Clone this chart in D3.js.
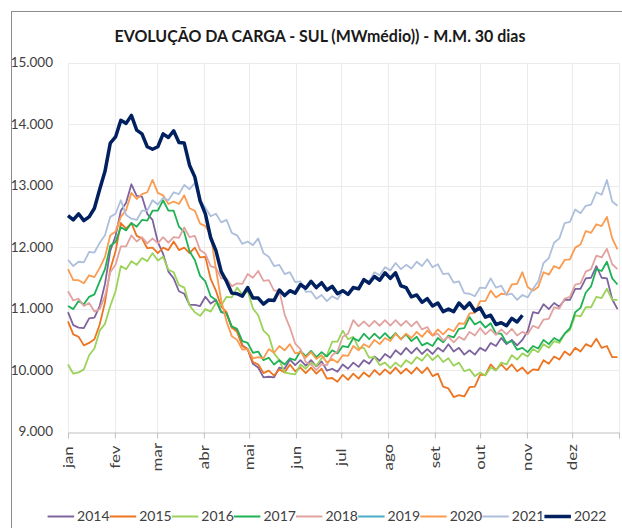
<!DOCTYPE html>
<html>
<head>
<meta charset="utf-8">
<script src="https://cdn.jsdelivr.net/npm/d3@7"></script>
<style>
body { margin: 0; background: #fff; }
text { font-family: Lato, "Liberation Sans", sans-serif; }
</style>
</head>
<body>
<script>

// um ponto a cada 3,5 dias (pico e vale de cada semana), MWmédio
const step = 3.5;
const months = ["jan", "fev", "mar", "abr", "mai", "jun", "jul", "ago", "set", "out", "nov", "dez"];
const monthStart = [0, 31, 59, 90, 120, 151, 181, 212, 243, 273, 304, 334, 365];
const yTicks = [9000, 10000, 11000, 12000, 13000, 14000, 15000];
const years = ["2014", "2015", "2016", "2017", "2018", "2019", "2020", "2021", "2022"];
const colors = ["#7e649e", "#ed7420", "#9bd35a", "#1fb155", "#e2a3a0", "#4bacc6", "#fa9b50", "#aebfdc", "#002060"];

const c2014 = [10940,10730,10690,10680,10840,10850,11040,11400,11940,12180,12590,12720,13020,12830,12820,12540,12440,12080,11890,11600,
  11490,11280,11240,11060,11060,11040,11190,11080,11140,10940,10920,10690,10640,10400,10340,10100,10040,9880,9890,9880,
  10040,10020,10170,10080,10160,10070,10160,10060,10140,9990,10020,9970,10090,10020,10120,10050,10160,10100,10220,10150,
  10260,10200,10320,10250,10360,10270,10360,10260,10340,10260,10360,10300,10420,10300,10360,10250,10320,10250,10360,10310,
  10440,10390,10520,10420,10490,10400,10490,10630,10940,10920,11070,10990,11090,11030,11140,11140,11320,11320,11490,11500,
  11690,11500,11490,11150,10990];
const c2015 = [10790,10580,10540,10400,10440,10500,10740,11100,11640,11930,12390,12300,12390,12180,12140,11980,11990,11900,11990,11950,
  12090,11950,11990,11900,11990,11830,11840,11480,11290,11030,10940,10690,10620,10390,10340,10130,10090,9950,9990,9910,
  10010,9960,10090,9980,10040,9950,10040,9940,10020,9860,9870,9810,9920,9840,9940,9860,9960,9890,10000,9920,
  10010,9940,10040,9940,10020,9940,10040,9950,10040,9900,9940,9730,9700,9560,9590,9570,9720,9730,9920,9920,
  10090,10000,10090,10000,10090,9980,10040,9940,10010,10000,10160,10100,10220,10170,10300,10240,10360,10300,10420,10380,
  10510,10360,10390,10210,10210];
const c2016 = [10090,9940,9960,10010,10240,10350,10640,10750,11040,11280,11690,11640,11770,11710,11820,11770,11900,11780,11840,11630,
  11590,11380,11340,11050,10940,10880,10990,10950,11090,11050,11190,11180,11340,11230,11290,11000,10890,10640,10560,10270,
  10160,9960,9940,9930,10090,10020,10120,10070,10190,10240,10460,10460,10640,10500,10540,10360,10360,10200,10210,10080,
  10120,10030,10120,10050,10160,10100,10210,10150,10260,10160,10240,10130,10190,10070,10120,9980,10010,9900,9960,9910,
  10040,9990,10120,10090,10240,10170,10270,10220,10340,10290,10420,10360,10470,10440,10590,10650,10890,10870,11020,11020,
  11190,11170,11320,11140,11140];
const c2017 = [11040,10990,11120,11070,11190,11230,11440,11640,12020,12080,12320,12270,12390,12330,12440,12430,12590,12590,12760,12590,
  12590,12330,12240,11930,11790,11530,11440,11200,11140,10940,10920,10710,10670,10470,10440,10280,10300,10160,10200,10090,
  10160,10090,10190,10160,10310,10220,10310,10210,10290,10220,10320,10270,10390,10370,10520,10470,10590,10500,10590,10510,
  10600,10510,10600,10500,10580,10470,10540,10400,10440,10390,10520,10450,10560,10530,10670,10680,10860,10740,10790,10690,
  10760,10590,10590,10440,10470,10330,10360,10290,10390,10350,10490,10420,10520,10470,10590,10680,10940,11010,11260,11360,
  11640,11610,11760,11490,11390];
const c2018 = [11280,11130,11160,11040,11090,10950,10990,11200,11590,11710,12010,12010,12190,12090,12160,12060,12140,12060,12160,12070,
  12160,12150,12320,12160,12180,11950,11890,11690,11660,11490,11490,11360,11410,11400,11560,11500,11610,11450,11460,11290,
  11290,10900,10690,10430,10340,10130,10090,10000,10090,10080,10240,10300,10540,10590,10810,10710,10790,10710,10800,10720,
  10810,10720,10810,10720,10800,10710,10790,10660,10700,10560,10590,10480,10540,10450,10540,10490,10620,10560,10680,10580,
  10660,10570,10660,10580,10670,10560,10620,10580,10720,10680,10820,10830,11020,11000,11160,11190,11390,11410,11600,11640,
  11860,11830,11970,11720,11640];
const c2019 = [];
const c2020 = [11640,11460,11460,11410,11540,11510,11660,11840,12190,12250,12490,12600,12880,12780,12860,12890,13090,12880,12840,12700,
  12740,12700,12840,12630,12590,12380,12340,12200,11640,11130,10790,10550,10490,10330,10340,10190,10210,10190,10340,10280,
  10390,10320,10420,10270,10290,10200,10290,10180,10240,10120,10180,10120,10240,10230,10390,10320,10420,10370,10490,10420,
  10520,10470,10590,10500,10590,10520,10620,10540,10640,10560,10660,10580,10670,10630,10760,10750,10920,10930,11120,11120,
  11290,11180,11240,11230,11390,11400,11590,11350,11290,11350,11590,11550,11690,11650,11790,11800,11990,12040,12260,12230,
  12370,12340,12490,12140,11960];
const c2021 = [11790,11690,11760,11750,11920,11910,12070,12190,12490,12540,12760,12520,12460,12440,12590,12590,12760,12690,12800,12760,
  12890,12860,13010,12940,13040,12750,12640,12500,12540,12400,12440,12230,12190,12050,12090,12030,12140,11900,11840,11690,
  11710,11560,11590,11430,11440,11270,11280,11160,11220,11120,11200,11150,11280,11230,11360,11320,11460,11440,11590,11540,
  11670,11620,11740,11640,11710,11650,11760,11690,11800,11670,11720,11560,11570,11420,11440,11250,11240,11200,11340,11330,
  11490,11340,11370,11220,11240,11140,11220,11180,11320,11440,11740,11820,12070,12140,12390,12410,12610,12550,12670,12690,
  12890,12850,13090,12740,12670];
const c2022 = [12510,12440,12540,12430,12490,12630,12940,13230,13690,13790,14060,14010,14140,13900,13840,13630,13590,13630,13840,13780,
  13890,13700,13690,13330,13140,12750,12540,12150,11940,11600,11440,11250,11240,11200,11340,11170,11170,11070,11140,11130,
  11300,11210,11290,11250,11390,11330,11440,11340,11420,11300,11360,11240,11290,11230,11340,11320,11470,11410,11520,11460,
  11580,11490,11580,11370,11340,11190,11220,11100,11160,11040,11090,10950,10990,10950,11090,11000,11090,10960,11010,10860,
  10890,10740,10770,10720,10840,10780,10890];

const allSeries = [c2014, c2015, c2016, c2017, c2018, c2019, c2020, c2021, c2022];
const series = years.map((yr, i) => ({ year: yr, values: allSeries[i], color: colors[i] }));

const svg = d3.select("body").append("svg")
    .attr("width", 622)
    .attr("height", 528);

// moldura do gráfico
svg.append("rect")
    .attr("x", 11.5).attr("y", 11.5)
    .attr("width", 700).attr("height", 600)
    .style("fill", "none")
    .style("stroke", "#8c8c8c");

svg.append("text")
    .attr("x", 320)
    .attr("y", 42)
    .attr("text-anchor", "middle")
    .attr("textLength", 411)
    .attr("lengthAdjust", "spacingAndGlyphs")
    .style("font-size", "17px")
    .style("font-weight", "bold")
    .style("fill", "#1a1a1a")
    .text("EVOLUÇÃO DA CARGA - SUL (MWmédio)) - M.M. 30 dias");

const x = d3.scaleLinear().domain([0, 365]).range([68, 619]);
const y = d3.scaleLinear().domain([9000, 15000]).range([431.5, 62.5]);

const br = d3.formatLocale({ decimal: ",", thousands: ".", grouping: [3], currency: ["R$", ""] });
const fmt = br.format(",.0f");

// grades
svg.selectAll(".hgrid")
    .data(yTicks.slice(1))
    .join("line")
    .attr("class", "hgrid")
    .attr("x1", x(0)).attr("x2", x(365))
    .attr("y1", d => Math.round(y(d)) + 0.5).attr("y2", d => Math.round(y(d)) + 0.5)
    .style("stroke", "#ebebeb");

svg.selectAll(".vgrid")
    .data(monthStart)
    .join("line")
    .attr("class", "vgrid")
    .attr("x1", d => Math.round(x(d)) + 0.5).attr("x2", d => Math.round(x(d)) + 0.5)
    .attr("y1", y(15000)).attr("y2", y(9000))
    .style("stroke", "#ebebeb");

const yAxis = svg.append("g")
    .attr("transform", "translate(" + x(0) + ",0)")
    .call(d3.axisLeft(y).tickValues(yTicks).tickSize(0).tickPadding(15).tickFormat(fmt));
yAxis.select(".domain").remove();
yAxis.selectAll("text")
    .style("font-size", "13.5px")
    .style("fill", "#404040");

const xAxis = svg.append("g")
    .attr("transform", "translate(0," + (Math.round(y(9000)) + 0.5) + ")")
    .call(d3.axisBottom(x).tickValues(monthStart).tickSize(6).tickSizeOuter(0)
        .tickFormat((d, i) => months[i] || ""));
xAxis.select(".domain").style("stroke", "#bfbfbf");
xAxis.selectAll("line").style("stroke", "#bfbfbf");
// rótulos girados e um pouco esticados, como no original
xAxis.selectAll("text")
    .attr("transform", "rotate(-90) scale(1.3,1)")
    .attr("x", -19)
    .attr("y", 0)
    .attr("dy", "0.35em")
    .style("text-anchor", "middle")
    .style("font-size", "13px")
    .style("fill", "#404040");

const line = d3.line()
    .x((d, i) => x(i * step))
    .y(d => y(d));

svg.selectAll(".serie")
    .data(series.filter(s => s.values.length))
    .join("path")
    .attr("class", "serie")
    .attr("d", d => line(d.values))
    .style("fill", "none")
    .style("stroke", d => d.color)
    .style("stroke-width", d => d.year == "2022" ? 3.5 : 1.8)
    .style("stroke-linejoin", "round");

// legenda
const legend = svg.selectAll(".leg")
    .data(series)
    .join("g")
    .attr("class", "leg")
    .attr("transform", (d, i) => "translate(" + (47.6 + i * 62.1) + ",516.5)");

legend.append("line")
    .attr("x1", 0).attr("x2", 26.5)
    .style("stroke", d => d.color)
    .style("stroke-width", d => d.year == "2022" ? 3.5 : 2);

legend.append("text")
    .attr("x", 29.5)
    .attr("dy", "0.35em")
    .style("font-size", "14px")
    .style("fill", "#404040")
    .text(d => d.year);

</script>
</body>
</html>
